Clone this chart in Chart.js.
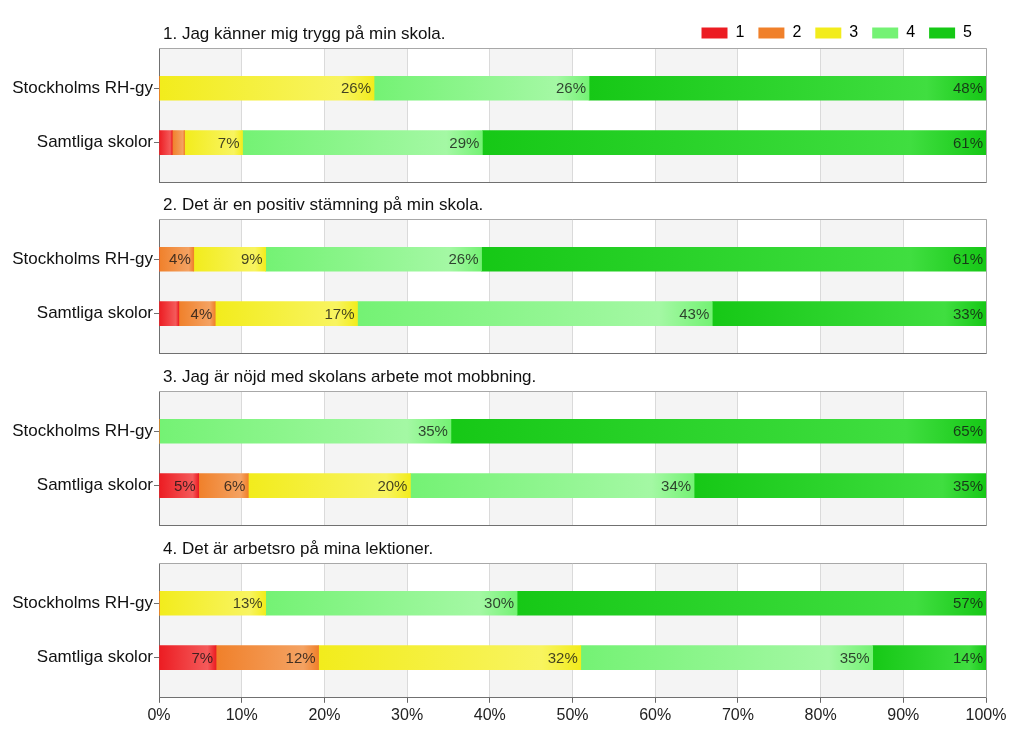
<!DOCTYPE html>
<html>
<head>
<meta charset="utf-8">
<script src="https://cdn.jsdelivr.net/npm/chart.js@4"></script>
<style>
  body { margin: 0; background: #fff; width: 1024px; height: 734px; position: relative; overflow: hidden; }
  canvas { position: absolute; left: 0; }
</style>
</head>
<body>
<canvas id="c1" width="1024" height="194" style="top:0px"></canvas>
<canvas id="c2" width="1024" height="174" style="top:191px"></canvas>
<canvas id="c3" width="1024" height="174" style="top:363px"></canvas>
<canvas id="c4" width="1024" height="199" style="top:535px"></canvas>
<script>
// Rows and legend
const rows = ["Stockholms RH-gy", "Samtliga skolor"];
const grades = ["1", "2", "3", "4", "5"];
const titles = [
  "1. Jag känner mig trygg på min skola.",
  "2. Det är en positiv stämning på min skola.",
  "3. Jag är nöjd med skolans arbete mot mobbning.",
  "4. Det är arbetsro på mina lektioner."
];
const xTicks = [0, 10, 20, 30, 40, 50, 60, 70, 80, 90, 100];

// Percent per grade 1..5, [Stockholms RH-gy, Samtliga skolor]
const q1 = [[0, 1.6], [0, 1.5], [26, 7], [26, 29], [48, 60.9]];
const q2 = [[0, 2.4], [4.2, 4.4], [8.7, 17.2], [26.1, 42.9], [61, 33.1]];
const q3 = [[0, 4.8], [0, 6.0], [0, 19.6], [35.3, 34.3], [64.7, 35.3]];
const q4 = [[0, 6.9], [0, 12.4], [12.9, 31.7], [30.4, 35.3], [56.7, 13.7]];
const questions = [q1, q2, q3, q4];

const baseColors = ["#ec1c22", "#f0802a", "#f2ec1c", "#74f274", "#16c816"];
const lightColors = ["#f45a5a", "#f4a262", "#f8f460", "#a4f8a4", "#40de40"];

const FONT = "'Liberation Sans', Arial, sans-serif";

function segFill(k) {
  return (ctx) => {
    const chart = ctx.chart;
    const i = ctx.dataIndex;
    if (i === undefined || !chart.chartArea || !chart.scales.x) return baseColors[k];
    const xs = chart.scales.x;
    let start = 0;
    for (let d = 0; d < k; d++) start += chart.data.datasets[d].data[i].x;
    const x0 = xs.getPixelForValue(start);
    const x1 = xs.getPixelForValue(start + ctx.raw.x);
    if (!isFinite(x0) || !isFinite(x1) || x1 - x0 < 1) return baseColors[k];
    const g = chart.ctx.createLinearGradient(x0, 0, x1, 0);
    g.addColorStop(0, baseColors[k]);
    g.addColorStop(0.85, lightColors[k]);
    g.addColorStop(1, baseColors[k]);
    return g;
  };
}

// background bands, frame, title and value labels
const panelDeco = {
  id: "panelDeco",
  beforeDraw(chart, args, opts) {
    const {ctx, chartArea: a, scales: {x}} = chart;
    ctx.save();
    ctx.fillStyle = "#f4f4f4";
    for (let v = 0; v < 100; v += 20) {
      const p0 = x.getPixelForValue(v), p1 = x.getPixelForValue(v + 10);
      ctx.fillRect(p0, a.top, p1 - p0, a.bottom - a.top);
    }
    ctx.fillStyle = "#111";
    ctx.font = "17px " + FONT;
    ctx.textAlign = "left";
    ctx.textBaseline = "middle";
    ctx.fillText(opts.title, a.left + 4, a.top - 14);
    ctx.restore();
  },
  beforeDatasetsDraw(chart) {
    const {ctx, chartArea: a} = chart;
    ctx.save();
    ctx.strokeStyle = "#a8a8a8";
    ctx.lineWidth = 1;
    ctx.beginPath();
    ctx.moveTo(a.left, a.top + 0.5);
    ctx.lineTo(a.right + 0.5, a.top + 0.5);
    ctx.lineTo(a.right + 0.5, a.bottom);
    ctx.stroke();
    ctx.restore();
  },
  afterDatasetsDraw(chart) {
    const {ctx} = chart;
    ctx.save();
    ctx.font = "15px " + FONT;
    ctx.fillStyle = "rgba(20,20,20,0.8)";
    ctx.textAlign = "right";
    ctx.textBaseline = "middle";
    chart.data.datasets.forEach((ds, k) => {
      chart.getDatasetMeta(k).data.forEach((el, j) => {
        const v = ds.data[j].x;
        if (v < 3) return;
        ctx.fillText(Math.round(v) + "%", el.x - 3, el.y + 1);
      });
    });
    ctx.restore();
  }
};

function makeChart(id, n) {
  const q = questions[n];
  const first = n === 0;
  const last = n === questions.length - 1;
  return new Chart(document.getElementById(id), {
    type: "bar",
    data: {
      datasets: grades.map((g, k) => ({
        label: g,
        data: q[k].map((v, i) => ({x: v, y: i})),
        backgroundColor: segFill(k),
        borderWidth: 0,
        barThickness: 24
      }))
    },
    options: {
      indexAxis: "y",
      responsive: false,
      animation: false,
      layout: {padding: {left: 0, right: 38, top: first ? 11 : 28, bottom: last ? 6 : 2}},
      scales: {
        x: {
          type: "linear",
          stacked: true,
          min: 0,
          max: 100,
          afterBuildTicks: (s) => { s.ticks = xTicks.map(v => ({value: v})); },
          grid: {color: "#dadada", drawTicks: last, tickLength: 5, tickColor: "#666"},
          border: {color: "#707070"},
          ticks: {
            display: last,
            padding: 3,
            color: "#222",
            font: {family: FONT, size: 16},
            callback: (v) => v + "%"
          }
        },
        y: {
          type: "linear",
          stacked: true,
          reverse: true,
          offset: false,
          min: -0.74,
          max: 1.74,
          afterBuildTicks: (s) => { s.ticks = rows.map((r, i) => ({value: i})); },
          afterFit: (s) => { s.width = 159; },
          grid: {offset: false, drawOnChartArea: false, tickLength: 5, tickColor: "#707070"},
          border: {color: "#707070"},
          ticks: {
            padding: 1,
            color: "#111",
            font: {family: FONT, size: 17},
            callback: (v) => rows[v]
          }
        }
      },
      plugins: {
        panelDeco: {title: titles[n]},
        tooltip: {enabled: false},
        legend: {
          display: first,
          position: "top",
          align: "end",
          maxHeight: 37,
          labels: {
            boxWidth: 26,
            boxHeight: 11,
            padding: 14,
            color: "#111",
            font: {family: FONT, size: 16},
            generateLabels: (chart) => grades.map((g, k) => ({
              text: g,
              fillStyle: baseColors[k],
              strokeStyle: baseColors[k],
              lineWidth: 0,
              datasetIndex: k
            }))
          }
        }
      }
    },
    plugins: [panelDeco]
  });
}

makeChart("c1", 0);
makeChart("c2", 1);
makeChart("c3", 2);
makeChart("c4", 3);
</script>
</body>
</html>
